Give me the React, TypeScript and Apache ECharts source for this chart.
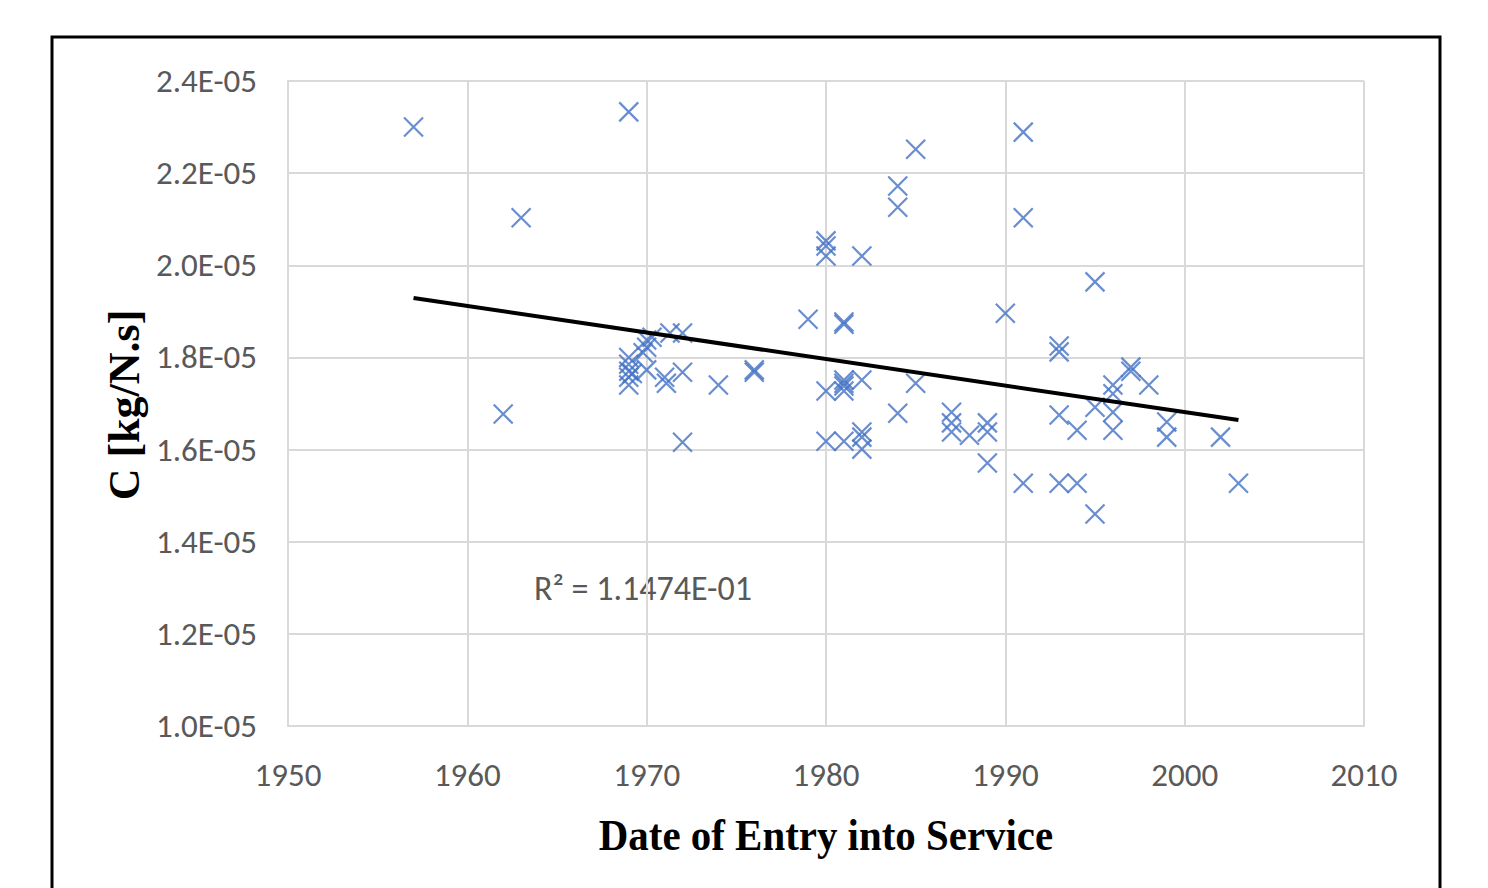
import React, { useEffect, useRef } from "react";
import * as echarts from "echarts";

const years = [
  1957, 1962, 1963, 1969, 1969, 1969, 1969, 1969, 1969, 1969.2,
  1970, 1970, 1970.3, 1971.3, 1972, 1969.8, 1970, 1971, 1971.1, 1972,
  1972, 1974, 1976, 1976, 1979, 1980, 1980, 1980, 1982, 1981,
  1981, 1980, 1981, 1981, 1981, 1981, 1982, 1980, 1981, 1982,
  1982, 1982, 1984, 1984, 1984, 1985, 1985, 1987, 1987, 1987,
  1988, 1989, 1989, 1989, 1990, 1991, 1991, 1991, 1993, 1993,
  1993, 1993, 1994, 1994, 1995, 1995, 1995, 1996, 1996, 1996,
  1996, 1997, 1997, 1998, 1999, 1999, 2002, 2003,
];
const values = [
  2.3e-5, 1.677e-5, 2.103e-5, 2.333e-5, 1.8e-5, 1.785e-5, 1.77e-5, 1.757e-5, 1.74e-5, 1.765e-5,
  1.822e-5, 1.838e-5, 1.844e-5, 1.853e-5, 1.853e-5, 1.81e-5, 1.773e-5, 1.757e-5, 1.744e-5, 1.768e-5,
  1.616e-5, 1.74e-5, 1.768e-5, 1.773e-5, 1.883e-5, 2.053e-5, 2.042e-5, 2.02e-5, 2.02e-5, 1.877e-5,
  1.872e-5, 1.727e-5, 1.751e-5, 1.744e-5, 1.738e-5, 1.727e-5, 1.751e-5, 1.618e-5, 1.618e-5, 1.638e-5,
  1.627e-5, 1.601e-5, 2.172e-5, 2.126e-5, 1.679e-5, 2.252e-5, 1.744e-5, 1.681e-5, 1.658e-5, 1.638e-5,
  1.631e-5, 1.658e-5, 1.638e-5, 1.571e-5, 1.896e-5, 2.289e-5, 2.103e-5, 1.527e-5, 1.825e-5, 1.812e-5,
  1.675e-5, 1.527e-5, 1.642e-5, 1.527e-5, 1.964e-5, 1.46e-5, 1.692e-5, 1.74e-5, 1.721e-5, 1.681e-5,
  1.642e-5, 1.779e-5, 1.77e-5, 1.74e-5, 1.66e-5, 1.627e-5, 1.627e-5, 1.527e-5,
];
const trendYears = [1957, 2003];
const trendValues = [1.929e-5, 1.664e-5];
const xTicks = { min: 1950, max: 2010, interval: 10 };
const yTicks = { min: 1.0e-5, max: 2.4e-5, interval: 0.2e-5 };
const r2Label = "R² = 1.1474E-01";
const xTitle = "Date of Entry into Service";
const yTitle = "C [kg/N.s]";

const fmtExp = (v: number) => {
  const [m, e] = v.toExponential(1).split("e");
  const n = parseInt(e, 10);
  const sign = n < 0 ? "-" : "+";
  return `${m}E${sign}${String(Math.abs(n)).padStart(2, "0")}`;
};

const LABEL_FONT = "Carlito, 'Open Sans', 'Noto Sans', sans-serif";
const TITLE_FONT = "'Liberation Serif', 'DejaVu Serif', serif";

export default function App() {
  const ref = useRef<HTMLDivElement>(null);
  useEffect(() => {
    if (!ref.current) return;
    const chart = echarts.init(ref.current, null, { renderer: "svg" });
    chart.setOption({
      animation: false,
      backgroundColor: "#ffffff",
      grid: { left: 288, right: 124, top: 81, bottom: 162, containLabel: false },
      xAxis: {
        type: "value",
        min: xTicks.min,
        max: xTicks.max,
        interval: xTicks.interval,
        axisLine: { show: true, lineStyle: { color: "#d9d9d9", width: 2 } },
        axisTick: { show: false },
        splitLine: { show: true, lineStyle: { color: "#d9d9d9", width: 2 } },
        axisLabel: {
          color: "#595959",
          fontSize: 33,
          fontFamily: LABEL_FONT,
          margin: 32,
          formatter: (v: number) => String(v),
        },
      },
      yAxis: {
        type: "value",
        min: yTicks.min,
        max: yTicks.max,
        interval: yTicks.interval,
        axisLine: { show: true, lineStyle: { color: "#d9d9d9", width: 2 } },
        axisTick: { show: false },
        splitLine: { show: true, lineStyle: { color: "#d9d9d9", width: 2 } },
        axisLabel: {
          color: "#595959",
          fontSize: 33,
          fontFamily: LABEL_FONT,
          margin: 31,
          formatter: (v: number) => fmtExp(v),
        },
      },
      series: [
        {
          type: "scatter",
          data: years.map((y, i) => [y, values[i]]),
          symbol: "path://M0,0 L10,10 M10,0 L0,10",
          symbolSize: 19,
          itemStyle: { color: "transparent", borderColor: "#4472C4", borderWidth: 2.2 },
          z: 3,
        },
        {
          type: "line",
          data: trendYears.map((y, i) => [y, trendValues[i]]),
          symbol: "none",
          lineStyle: { color: "#000000", width: 4 },
          z: 4,
        },
      ],
      graphic: [
        {
          type: "rect",
          shape: { x: 52, y: 37, width: 1388, height: 900 },
          style: { fill: "none", stroke: "#000000", lineWidth: 3 },
          silent: true,
        },
        {
          type: "text",
          x: 534,
          y: 588,
          style: {
            text: r2Label,
            fill: "#595959",
            font: `34px ${LABEL_FONT}`,
            textAlign: "left",
            textVerticalAlign: "middle",
          },
        },
        {
          type: "text",
          x: 826,
          y: 835,
          scaleX: 0.93,
          style: {
            text: xTitle,
            fill: "#000000",
            font: `bold 44px ${TITLE_FONT}`,
            textAlign: "center",
            textVerticalAlign: "middle",
          },
        },
        {
          type: "text",
          x: 124,
          y: 405,
          rotation: Math.PI / 2,
          style: {
            text: yTitle,
            fill: "#000000",
            font: `bold 44px ${TITLE_FONT}`,
            textAlign: "center",
            textVerticalAlign: "middle",
          },
        },
      ],
    });
    return () => chart.dispose();
  }, []);
  return (
    <div
      ref={ref}
      style={{ position: "fixed", left: 0, top: 0, width: 1488, height: 888, background: "#fff" }}
    />
  );
}
